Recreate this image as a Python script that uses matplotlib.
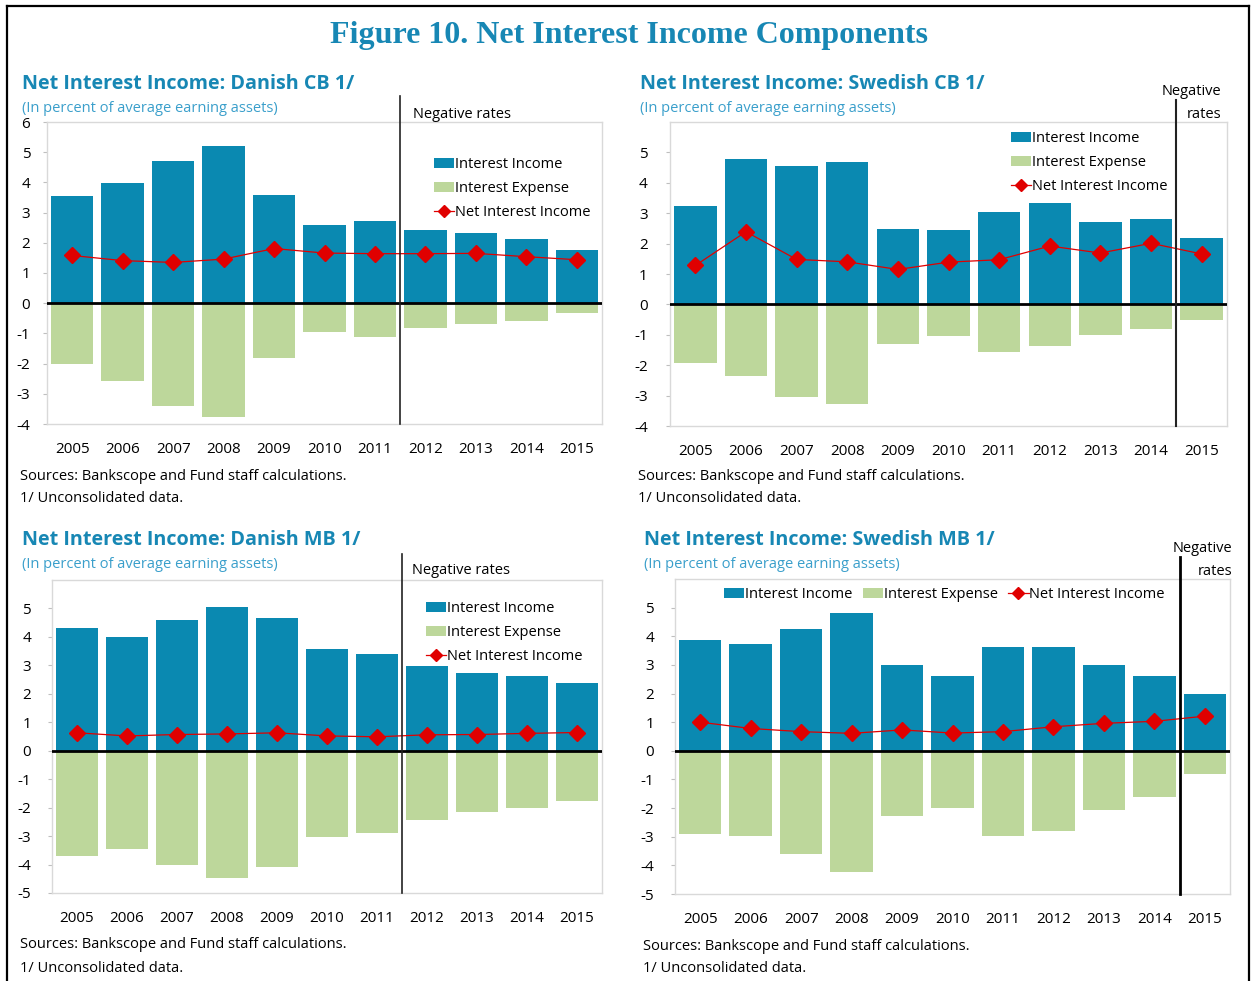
#!/usr/bin/env python3
# Figure 10: net interest income components, four panels
import matplotlib
matplotlib.use("Agg")
import matplotlib.pyplot as plt
from matplotlib.lines import Line2D
from matplotlib.patches import Patch

# Data (percent of average earning assets)
years = [2005, 2006, 2007, 2008, 2009, 2010, 2011, 2012, 2013, 2014, 2015]

dk_cb_income = [3.54, 3.98, 4.71, 5.20, 3.59, 2.58, 2.73, 2.43, 2.31, 2.11, 1.76]
dk_cb_expense = [-2.00, -2.59, -3.40, -3.76, -1.80, -0.95, -1.12, -0.82, -0.68, -0.58, -0.33]
dk_cb_nii = [1.58, 1.41, 1.35, 1.46, 1.81, 1.66, 1.64, 1.64, 1.65, 1.54, 1.44]

se_cb_income = [3.25, 4.77, 4.55, 4.70, 2.49, 2.46, 3.05, 3.33, 2.72, 2.82, 2.20]
se_cb_expense = [-1.94, -2.35, -3.03, -3.27, -1.30, -1.04, -1.56, -1.37, -1.00, -0.80, -0.52]
se_cb_nii = [1.28, 2.39, 1.48, 1.40, 1.15, 1.39, 1.47, 1.92, 1.69, 2.01, 1.66]

dk_mb_income = [4.32, 3.98, 4.59, 5.04, 4.66, 3.57, 3.40, 2.99, 2.74, 2.62, 2.37]
dk_mb_expense = [-3.70, -3.47, -4.02, -4.46, -4.07, -3.04, -2.90, -2.44, -2.17, -2.01, -1.76]
dk_mb_nii = [0.63, 0.52, 0.57, 0.59, 0.63, 0.52, 0.49, 0.56, 0.57, 0.61, 0.64]

se_mb_income = [3.88, 3.72, 4.26, 4.80, 3.01, 2.60, 3.61, 3.61, 3.01, 2.62, 1.99]
se_mb_expense = [-2.89, -2.96, -3.61, -4.22, -2.28, -1.99, -2.96, -2.79, -2.06, -1.62, -0.80]
se_mb_nii = [1.00, 0.78, 0.67, 0.61, 0.73, 0.62, 0.67, 0.84, 0.96, 1.03, 1.21]

# first year with negative policy rates per panel
dk_neg_start = 2012
se_neg_start = 2015

W, H = 1253, 981
BLUE = "#0a89b1"
GREEN = "#bdd79b"
RED = "#e00000"
TITLE_C = "#1787b4"
SUB_C = "#3a9fcb"
FONT = "Open Sans"
FS = 10.5

plt.rcParams["font.family"] = [FONT, "DejaVu Sans"]

fig = plt.figure(figsize=(W / 100, H / 100), dpi=100)


def box(x0, y0, x1, y1):
    return [x0 / W, 1 - y1 / H, (x1 - x0) / W, (y1 - y0) / H]


def ftext(x, y, s, **kw):
    fig.text(x / W, 1 - y / H, s, **kw)


def panel(rect, income, expense, nii, neg_year, ylim, yticks, ypad,
          line_top, line_w, leg_xy, leg_cols):
    ax = fig.add_axes(box(*rect))
    xs = list(range(len(years)))
    ax.bar(xs, income, width=0.84, color=BLUE, zorder=2)
    ax.bar(xs, expense, width=0.84, color=GREEN, zorder=2)
    ax.plot(xs, nii, color=RED, lw=0.9, marker="D", ms=8,
            markerfacecolor=RED, markeredgecolor=RED, zorder=4)
    ax.axhline(0, color="black", lw=2, zorder=3)
    neg_x = years.index(neg_year) - 0.5
    ax.axvline(neg_x, ymin=0, ymax=line_top, color="#222222" if line_w < 2 else "black",
               lw=line_w, clip_on=False, zorder=5)
    ax.set_xlim(-0.5, len(years) - 0.5)
    ax.set_ylim(*ylim)
    ax.set_yticks(yticks)
    ax.set_yticklabels([str(t) for t in yticks])
    ax.set_xticks(xs)
    ax.set_xticklabels([str(y) for y in years])
    ax.tick_params(axis="x", length=0, pad=13, labelsize=11)
    ax.tick_params(axis="y", length=3, color="#bfbfbf", pad=ypad, labelsize=11)
    for sp in ax.spines.values():
        sp.set_color("#d9d9d9")
        sp.set_linewidth(1)
    handles = [
        Patch(facecolor=BLUE, edgecolor="none", label="Interest Income"),
        Patch(facecolor=GREEN, edgecolor="none", label="Interest Expense"),
        Line2D([], [], color=RED, lw=0.9, marker="D", ms=6, label="Net Interest Income"),
    ]
    ax.legend(handles=handles, loc="upper left", bbox_to_anchor=(leg_xy[0] / W, 1 - leg_xy[1] / H),
              bbox_transform=fig.transFigure, frameon=False, ncol=leg_cols,
              fontsize=FS, handlelength=1.4, handleheight=0.7, handletextpad=0.05,
              labelspacing=0.62, columnspacing=0.7, borderpad=0, borderaxespad=0)
    return ax


# frame round the whole figure (bottom edge is cut off)
for xy in ([(7, 7), (981 + 10, 6)], [(7, 1249), (6, 6)], [(1249, 1249), (6, 981 + 10)]):
    fig.add_artist(Line2D([x / W for x in xy[0]], [1 - y / H for y in xy[1]],
                          color="black", lw=1.6, transform=fig.transFigure))

ftext(629, 36, "Figure 10. Net Interest Income Components", ha="center", va="center",
      family="Liberation Serif", weight="bold", fontsize=23, color=TITLE_C)

SRC = "Sources: Bankscope and Fund staff calculations."
NOTE = "1/ Unconsolidated data."
SUB = "(In percent of average earning assets)"

# Danish CB
panel((47, 122, 602, 424), dk_cb_income, dk_cb_expense, dk_cb_nii, dk_neg_start,
      (-4, 6), list(range(-4, 7)), 9, 1.086, 1.2, (434, 157), 1)
ftext(22, 84, "Net Interest Income: Danish CB 1/", ha="left", va="center",
      weight="bold", fontsize=14.2, color=TITLE_C)
ftext(22, 108, SUB, ha="left", va="center", fontsize=FS, color=SUB_C)
ftext(413, 115, "Negative rates", ha="left", va="center", fontsize=FS)
ftext(20, 477, SRC, ha="left", va="center", fontsize=FS)
ftext(20, 498, NOTE, ha="left", va="center", fontsize=FS)

# Swedish CB
panel((670, 122, 1227, 426), se_cb_income, se_cb_expense, se_cb_nii, se_neg_start,
      (-4, 6), list(range(-4, 6)), 13, 1.072, 1.5, (1011, 131), 1)
ftext(640, 84, "Net Interest Income: Swedish CB 1/", ha="left", va="center",
      weight="bold", fontsize=14.2, color=TITLE_C)
ftext(640, 108, SUB, ha="left", va="center", fontsize=FS, color=SUB_C)
ftext(1221, 103, "Negative\nrates", ha="right", va="center", multialignment="right",
      fontsize=FS, linespacing=1.65)
ftext(638, 477, SRC, ha="left", va="center", fontsize=FS)
ftext(638, 498, NOTE, ha="left", va="center", fontsize=FS)

# Danish MB
panel((52, 580, 602, 893), dk_mb_income, dk_mb_expense, dk_mb_nii, dk_neg_start,
      (-5, 6), list(range(-5, 6)), 12, 1.083, 1.2, (426, 601), 1)
ftext(22, 540, "Net Interest Income: Danish MB 1/", ha="left", va="center",
      weight="bold", fontsize=14.2, color=TITLE_C)
ftext(22, 565, SUB, ha="left", va="center", fontsize=FS, color=SUB_C)
ftext(412, 570, "Negative rates", ha="left", va="center", fontsize=FS)
ftext(20, 945, SRC, ha="left", va="center", fontsize=FS)
ftext(20, 968, NOTE, ha="left", va="center", fontsize=FS)

# Swedish MB
panel((675, 579, 1230, 894), se_mb_income, se_mb_expense, se_mb_nii, se_neg_start,
      (-5, 6), list(range(-5, 6)), 12, 1.07, 2.0, (724, 587), 3)
ftext(644, 540, "Net Interest Income: Swedish MB 1/", ha="left", va="center",
      weight="bold", fontsize=14.2, color=TITLE_C)
ftext(644, 565, SUB, ha="left", va="center", fontsize=FS, color=SUB_C)
ftext(1232, 560, "Negative\nrates", ha="right", va="center", multialignment="right",
      fontsize=FS, linespacing=1.65)
ftext(643, 946, SRC, ha="left", va="center", fontsize=FS)
ftext(643, 968, NOTE, ha="left", va="center", fontsize=FS)

fig.savefig("out.png", dpi=100)
